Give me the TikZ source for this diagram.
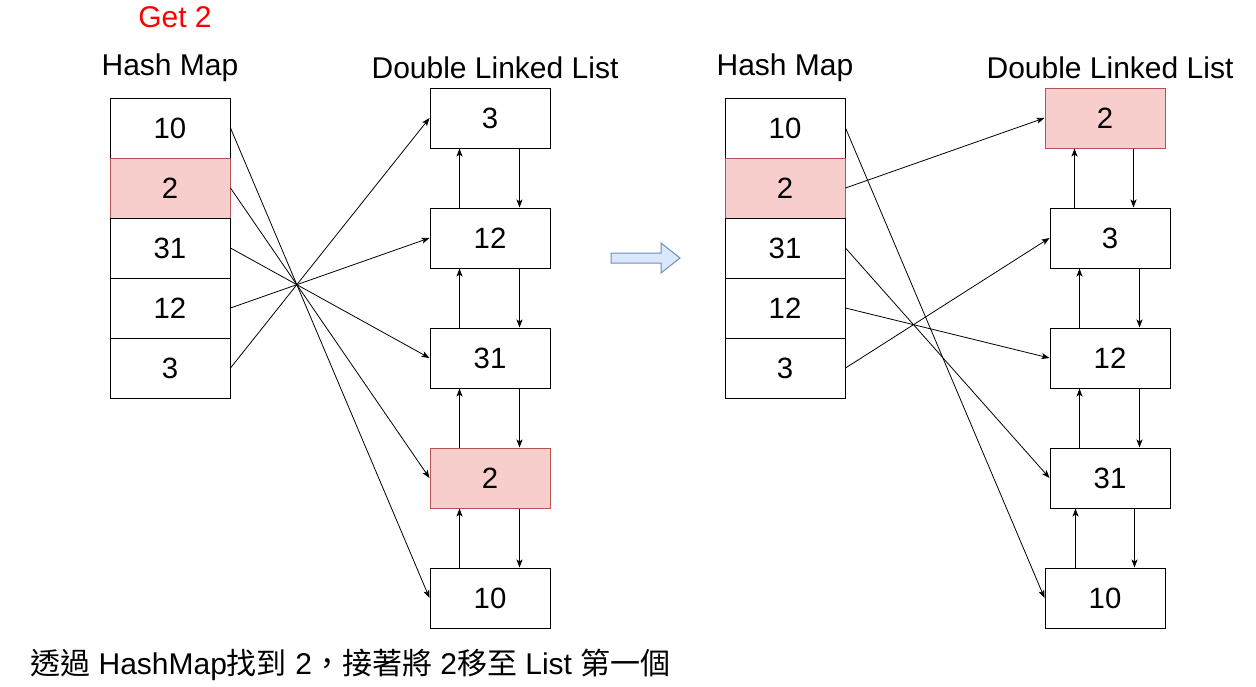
\documentclass[tikz,border=0pt]{standalone}
\usepackage{fontspec}
\setmainfont{Liberation Sans}
\newfontfamily\cjk{Noto Sans CJK TC}
\usetikzlibrary{arrows.meta,calc,shapes.arrows}
\definecolor{pinkfill}{HTML}{F8CECC}
\definecolor{pinkdraw}{HTML}{B85450}
\definecolor{bluefill}{HTML}{DAE8FC}
\definecolor{bluedraw}{HTML}{6C8EBF}
\begin{document}
\begin{tikzpicture}[x=0.75pt,y=-0.75pt,
  cell/.style={draw,line width=0.75pt,minimum width=90pt,minimum height=45pt,inner sep=0pt,font=\fontsize{22}{26}\selectfont},
  hot/.style={cell,fill=pinkfill,draw=pinkdraw},
  title/.style={font=\fontsize{22.5}{26}\selectfont,inner sep=0pt},
  link/.style={line width=0.6pt,-{Stealth[length=6pt,width=4.5pt,inset=1.5pt]}}]
\useasboundingbox[fill=white] (0,0) rectangle (1256,686);
% titles
\node[title,text=red] (get) at (175,17) {Get 2};
\node[title] (t1) at (170,68) {Hash Map};
\node[title] (t2) at (495,68) {Double Linked List};
\node[title] (t3) at (785,68) {Hash Map};
\node[title] (t4) at (1110,68) {Double Linked List};
% left hash map
\node[cell] (ha) at (170,128) {10};
\node[hot]  (hb) at (170,188) {2};
\node[cell] (hc) at (170,248) {31};
\node[cell] (hd) at (170,308) {12};
\node[cell] (he) at (170,368) {3};
% left list
\node[cell] (la) at (490,118) {3};
\node[cell] (lb) at (490,238) {12};
\node[cell] (lc) at (490,358) {31};
\node[hot]  (ld) at (490,478) {2};
\node[cell] (le) at (490,598) {10};
% right hash map
\node[cell] (ra) at (785,128) {10};
\node[hot]  (rb) at (785,188) {2};
\node[cell] (rc) at (785,248) {31};
\node[cell] (rd) at (785,308) {12};
\node[cell] (re) at (785,368) {3};
% right list
\node[hot]  (sa) at (1105,118) {2};
\node[cell] (sb) at (1110,238) {3};
\node[cell] (sc) at (1110,358) {12};
\node[cell] (sd) at (1110,478) {31};
\node[cell] (se) at (1105,598) {10};
% left mapping
\draw[link] (ha.east) -- (le.west);
\draw[link] (hb.east) -- (ld.west);
\draw[link] (hc.east) -- (lc.west);
\draw[link] (hd.east) -- (lb.west);
\draw[link] (he.east) -- (la.west);
% left list links
\foreach \u/\l in {la/lb,lb/lc,lc/ld,ld/le}{
  \draw[link] ($(\l.north west)+(30,0)$) -- ($(\u.south west)+(30,0)$);
  \draw[link] ($(\u.south west)+(90,0)$) -- ($(\l.north west)+(90,0)$);
}
% right mapping
\draw[link] (ra.east) -- (se.west);
\draw[link] (rb.east) -- (sa.west);
\draw[link] (rc.east) -- (sd.west);
\draw[link] (rd.east) -- (sc.west);
\draw[link] (re.east) -- (sb.west);
% right list links
\draw[link] ($(sb.north west)+(25,0)$) -- ($(sa.south west)+(30,0)$);
\draw[link] ($(sa.south west)+(89,0)$) -- ($(sb.north west)+(84,0)$);
\draw[link] ($(sc.north west)+(30,0)$) -- ($(sb.south west)+(30,0)$);
\draw[link] ($(sb.south west)+(90,0)$) -- ($(sc.north west)+(90,0)$);
\draw[link] ($(sd.north west)+(30,0)$) -- ($(sc.south west)+(30,0)$);
\draw[link] ($(sc.south west)+(90,0)$) -- ($(sd.north west)+(90,0)$);
\draw[link] ($(se.north west)+(31,0)$) -- ($(sd.south west)+(26,0)$);
\draw[link] ($(sd.south west)+(85,0)$) -- ($(se.north west)+(90,0)$);
% block arrow
\draw[fill=bluefill,draw=bluedraw,line width=0.75pt] (611,253) -- (661,253) -- (661,243) -- (680,258) -- (661,273) -- (661,263) -- (611,263) -- cycle;
% caption
\node[anchor=west,inner sep=0pt,font=\fontsize{22.5}{26}\selectfont] (cap) at (30,665) {{\cjk 透過} HashMap{\cjk 找到} 2{\cjk ，接著將} 2{\cjk 移至} List {\cjk 第一個}};
\end{tikzpicture}
\end{document}
